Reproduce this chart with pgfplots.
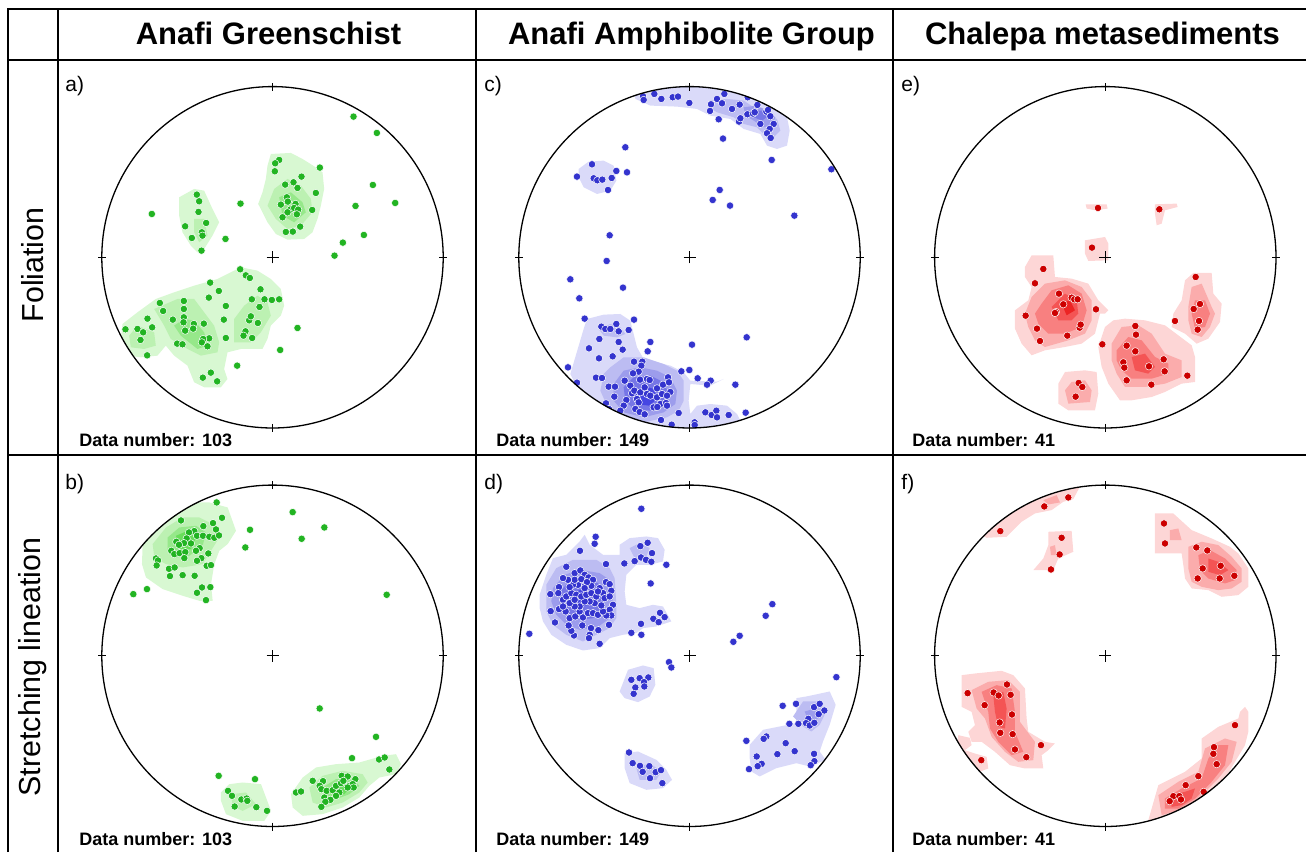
\documentclass[border=0pt]{standalone}
\usepackage{pgfplots}
\pgfplotsset{compat=1.18}
\usepackage{fontspec}
\setmainfont{Liberation Sans}
\definecolor{gp}{RGB}{34,180,34}
\definecolor{G1}{RGB}{216,248,210}
\definecolor{G2}{RGB}{188,241,178}
\definecolor{G3}{RGB}{150,232,138}
\definecolor{G4}{RGB}{105,222,90}
\definecolor{bp}{RGB}{52,52,206}
\definecolor{B1}{RGB}{218,218,249}
\definecolor{B2}{RGB}{188,188,242}
\definecolor{B3}{RGB}{156,156,236}
\definecolor{B4}{RGB}{118,118,230}
\definecolor{B5}{RGB}{70,70,226}
\definecolor{rp}{RGB}{204,0,0}
\definecolor{R1}{RGB}{253,214,214}
\definecolor{R2}{RGB}{251,172,172}
\definecolor{R3}{RGB}{248,128,128}
\definecolor{R4}{RGB}{244,84,84}
\definecolor{R5}{RGB}{236,36,36}
\pgfplotsset{
  cellax/.style={hide axis, scale only axis, width=170.7pt, height=170.7pt, y dir=reverse, anchor=center, clip=false},
  ct/.style={draw=none, fill=#1, forget plot},
  pts/.style={only marks, mark=*, mark size=1.85pt, mark options={fill=#1, draw=white, line width=0.25pt}},
}
\newcommand\ring[2]{%
  \draw[white, line width=14pt] (#1,#2) circle[radius=92.5pt];
}
\newcommand\stereo[2]{%
  \draw[line width=0.65pt] (#1,#2) circle[radius=85.35pt];
  \draw[line width=0.55pt] (#1,#2+166.7) -- (#1,#2+174.7);
  \draw[line width=0.55pt] (#1,#2-166.7) -- (#1,#2-174.7);
  \draw[line width=0.55pt] (#1-166.7,#2) -- (#1-174.7,#2);
  \draw[line width=0.55pt] (#1+166.7,#2) -- (#1+174.7,#2);
  \draw[line width=0.55pt] (#1-6,#2) -- (#1+6,#2) (#1,#2-6) -- (#1,#2+6);
}
\begin{document}
\begin{tikzpicture}[x=0.5pt,y=0.5pt]
\path[use as bounding box] (0,0) rectangle (1306,852);
% ---------------- a) -----------------
\begin{axis}[cellax, at={(136.25pt,297.35pt)}, xmin=23, xmax=1047, ymin=23, ymax=1047]
\addplot[ct=G1] coordinates {(530,225) (590,222) (625,240) (660,262) (685,280) (690,330) (680,380) (670,420) (655,460) (630,480) (580,482) (545,465) (520,430) (500,390) (492,375) (505,340) (515,300) (520,260)} -- cycle;
\addplot[ct=G2] coordinates {(540,330) (580,300) (620,320) (650,360) (655,400) (620,440) (580,450) (545,420) (520,380)} -- cycle;
\addplot[ct=G3] coordinates {(555,355) (590,340) (625,370) (635,400) (600,430) (565,410)} -- cycle;
\addplot[ct=G1] coordinates {(255,355) (300,330) (330,335) (355,390) (375,430) (355,470) (330,510) (310,520) (290,500) (265,460) (255,410)} -- cycle;
\addplot[ct=G2] coordinates {(300,420) (330,420) (340,470) (315,490) (300,460)} -- cycle;
\addplot[ct=G1] coordinates {(85,735) (130,700) (185,660) (240,640) (300,620) (370,600) (420,575) (440,565) (490,575) (530,600) (560,630) (570,680) (560,710) (530,740) (520,780) (505,810) (440,810) (400,820) (390,870) (400,900) (380,925) (330,925) (300,910) (280,860) (240,830) (215,800) (190,830) (140,835) (100,830) (80,780)} -- cycle;
\addplot[ct=G2] coordinates {(180,690) (250,660) (300,660) (330,700) (360,740) (375,790) (370,820) (320,830) (280,810) (230,780) (210,740)} -- cycle;
\addplot[ct=G2] coordinates {(420,720) (450,680) (490,650) (520,670) (530,710) (500,760) (470,790) (420,790)} -- cycle;
\addplot[ct=G2] coordinates {(105,770) (130,740) (180,760) (185,800) (150,810) (110,805)} -- cycle;
\addplot[ct=G3] coordinates {(240,740) (270,720) (300,725) (330,760) (340,800) (310,810) (260,770)} -- cycle;
\addplot[pts=gp] table[row sep=\\] {x y\\ 778 113\\ 848 162\\ 677 266\\ 836 318\\ 903 372\\ 784 381\\ 809 468\\ 746 491\\ 721 530\\ 173 405\\ 439 374\\ 394 480\\ 610 747\\ 558 813\\ 429 860\\ 94 751\\
555 243\\ 543 253\\ 542 277\\ 622 293\\ 573 317\\ 598 310\\ 610 327\\ 665 342\\ 578 355\\ 560 377\\ 581 368\\ 604 375\\ 588 392\\ 600 387\\ 612 392\\ 580 400\\ 608 406\\ 654 393\\ 565 415\\ 618 443\\ 575 459\\ 596 458\\
308 347\\ 315 367\\ 313 399\\ 336 432\\ 273 442\\ 323 460\\ 325 470\\ 293 477\\ 322 515\\
438 571\\ 455 589\\ 467 597\\ 348 611\\ 374 636\\ 344 656\\ 499 631\\ 473 661\\ 511 661\\ 533 663\\ 555 661\\ 395 681\\ 496 684\\ 269 666\\ 269 690\\ 197 672\\ 207 696\\ 236 722\\ 269 715\\ 268 730\\ 160 719\\ 174 745\\ 130 750\\ 147 760\\ 139 783\\ 159 829\\ 273 755\\ 299 735\\ 297 749\\ 329 734\\ 389 722\\ 465 724\\ 470 712\\ 491 732\\ 454 757\\ 448 770\\ 474 777\\ 395 777\\ 345 778\\ 327 780\\ 323 790\\ 340 802\\ 249 794\\ 265 796\\ 326 896\\ 350 881\\ 369 907\\};
\end{axis}
% ---------------- b) -----------------
\begin{axis}[cellax, at={(136.25pt,98.1pt)}, xmin=17.5, xmax=1041.5, ymin=23, ymax=1047]
\addplot[ct=G1] coordinates {(140,200) (180,150) (230,100) (290,75) (340,75) (395,90) (420,160) (395,200) (370,220) (355,260) (345,320) (350,370) (310,370) (260,355) (200,335) (150,300) (138,260)} -- cycle;
\addplot[ct=G2] coordinates {(170,200) (210,150) (260,120) (310,120) (350,140) (370,180) (345,220) (320,260) (260,270) (210,260) (175,240)} -- cycle;
\addplot[ct=G3] coordinates {(215,180) (250,150) (300,145) (330,165) (320,205) (280,235) (240,240) (215,220)} -- cycle;
\addplot[ct=G4] coordinates {(240,175) (275,160) (300,180) (285,215) (250,215)} -- cycle;
\addplot[ct=G1] coordinates {(375,945) (400,920) (440,915) (495,920) (510,960) (525,1000) (505,1030) (440,1030) (390,1010) (375,970)} -- cycle;
\addplot[ct=G2] coordinates {(405,950) (450,945) (480,980) (440,1000) (410,985)} -- cycle;
\addplot[ct=G1] coordinates {(585,950) (620,900) (660,870) (720,860) (790,855) (860,835) (900,830) (915,860) (900,890) (850,900) (820,925) (790,960) (740,990) (680,1010) (620,1015) (590,990)} -- cycle;
\addplot[ct=G2] coordinates {(640,930) (680,895) (740,880) (800,890) (815,915) (790,945) (740,975) (690,990) (650,975)} -- cycle;
\addplot[ct=G3] coordinates {(680,930) (720,905) (770,905) (790,925) (760,950) (720,965) (690,955)} -- cycle;
\addplot[ct=G4] coordinates {(710,930) (740,915) (765,925) (745,950) (715,950)} -- cycle;
\addplot[pts=gp] table[row sep=\\] {x y\\ 362 75\\ 378 121\\ 255 129\\ 351 137\\ 322 146\\ 360 156\\ 295 161\\ 279 165\\ 303 175\\ 321 175\\ 340 178\\ 355 181\\ 369 174\\ 272 183\\ 241 193\\ 264 197\\ 285 198\\ 249 202\\ 311 212\\ 300 220\\ 226 220\\ 235 230\\ 251 227\\ 268 224\\ 337 228\\ 316 242\\ 303 250\\ 265 242\\ 180 243\\ 186 249\\ 182 264\\ 332 265\\ 345 263\\ 219 274\\ 236 270\\ 222 296\\ 260 293\\ 296 295\\ 318 330\\ 343 329\\ 303 346\\ 330 368\\ 153 335\\ 112 350\\
590 104\\ 685 150\\ 617 184\\ 462 157\\ 448 210\\ 872 352\\ 671 693\\ 840 778\\ 768 842\\ 849 846\\ 866 840\\ 880 876\\ 368 895\\ 477 905\\
396 940\\ 408 955\\ 436 966\\ 452 963\\ 454 970\\ 416 987\\ 481 989\\ 513 1000\\
650 910\\ 681 911\\ 671 925\\ 600 945\\ 615 942\\ 676 935\\ 692 940\\ 710 938\\ 720 925\\ 735 917\\ 737 895\\ 755 897\\ 778 905\\ 742 910\\ 760 925\\ 770 920\\ 773 930\\ 755 930\\ 730 945\\ 720 955\\ 685 960\\ 703 967\\ 688 973\\ 676 988\\};
\end{axis}
% ---------------- c) -----------------
\begin{axis}[cellax, at={(344.75pt,297.35pt)}, xmin=25.5, xmax=1049.5, ymin=18, ymax=1042]
\addplot[ct=B1] coordinates {(370,20) (375,55) (420,75) (500,78) (560,85) (600,105) (660,115) (700,145) (750,160) (770,195) (800,205) (830,195) (838,150) (830,110) (815,85) (800,40) (700,-10) (500,-20) (380,-10)} -- cycle;
\addplot[ct=B2] coordinates {(600,60) (650,55) (700,60) (730,80) (760,100) (800,115) (810,150) (790,170) (760,160) (740,140) (700,130) (670,110) (620,95) (595,80)} -- cycle;
\addplot[ct=B3] coordinates {(700,80) (740,75) (770,90) (795,110) (785,135) (760,140) (730,120) (705,105)} -- cycle;
\addplot[ct=B4] coordinates {(725,90) (760,90) (775,105) (755,120) (730,110)} -- cycle;
\addplot[ct=B1] coordinates {(205,265) (235,243) (280,240) (310,255) (318,300) (300,330) (260,340) (220,320) (205,290)} -- cycle;
\addplot[ct=B1] coordinates {(220,745) (230,715) (280,702) (330,700) (360,720) (370,760) (380,800) (400,835) (440,845) (480,855) (520,875) (540,900) (620,903) (640,895) (600,915) (540,910) (535,960) (540,1000) (560,975) (600,970) (650,975) (680,1000) (690,1020) (650,1060) (450,1060) (300,1000) (250,960) (200,920) (180,880)} -- cycle;
\addplot[ct=B2] coordinates {(265,745) (300,730) (330,740) (345,760) (320,770) (280,765)} -- cycle;
\addplot[ct=B2] coordinates {(280,880) (300,860) (340,830) (400,830) (460,850) (500,870) (520,900) (520,960) (505,990) (470,1010) (400,1025) (330,1010) (290,975) (270,930)} -- cycle;
\addplot[ct=B3] coordinates {(310,910) (340,870) (390,860) (440,870) (480,890) (500,930) (495,970) (460,995) (400,1010) (340,995) (310,960)} -- cycle;
\addplot[ct=B4] coordinates {(340,920) (370,890) (420,885) (460,905) (475,940) (460,975) (420,990) (370,985) (345,960)} -- cycle;
\addplot[ct=B5] coordinates {(370,935) (400,915) (430,925) (440,955) (415,975) (380,970)} -- cycle;
\addplot[pts=bp] table[row sep=\\] {x y\\ 398 47\\ 400 58\\ 432 40\\ 453 55\\ 487 50\\ 503 48\\ 537 67\\ 642 40\\ 620 55\\ 635 68\\ 602 71\\ 599 91\\ 665 85\\ 688 72\\ 712 50\\ 741 73\\ 625 116\\ 686 123\\ 690 113\\ 711 101\\ 728 99\\ 733 95\\ 750 130\\ 768 93\\ 773 88\\ 780 107\\ 790 130\\ 778 145\\ 770 158\\ 781 172\\ 638 174\\ 784 238\\ 963 266\\ 345 200\\
245 251\\ 200 288\\ 250 293\\ 261 299\\ 276 297\\ 304 292\\ 318 271\\ 350 275\\ 293 328\\
628 328\\ 607 358\\ 659 375\\ 852 405\\ 298 464\\ 289 541\\ 180 596\\ 338 621\\ 207 653\\ 223 714\\ 371 717\\ 709 770\\ 545 792\\
273 738\\ 285 745\\ 300 745\\ 318 730\\ 325 752\\ 355 748\\ 267 775\\ 325 784\\ 420 784\\ 236 803\\ 337 807\\ 412 812\\ 266 833\\ 307 827\\ 173 860\\ 200 906\\ 257 891\\ 275 892\\ 295 918\\ 314 918\\ 371 843\\ 396 843\\ 393 855\\ 385 873\\ 368 878\\ 343 900\\ 360 915\\ 389 897\\ 410 895\\ 418 898\\ 440 923\\ 458 912\\ 473 890\\ 476 905\\ 480 934\\ 365 938\\ 372 930\\ 390 935\\ 403 920\\ 410 940\\ 420 945\\ 440 950\\ 455 940\\ 470 945\\ 450 970\\ 467 967\\ 470 975\\ 430 980\\ 441 979\\ 380 955\\ 385 965\\ 348 958\\ 340 975\\ 375 985\\ 388 994\\ 330 990\\ 403 1001\\ 312 948\\ 287 968\\ 296 985\\ 505 997\\ 537 868\\ 513 872\\ 562 893\\ 601 900\\ 590 912\\ 675 912\\ 484 1032\\ 452 1018\\ 553 1025\\ 553 1033\\ 585 995\\ 604 1003\\ 618 990\\ 620 1010\\ 655 1003\\ 706 996\\};
\end{axis}
% ---------------- d) -----------------
\begin{axis}[cellax, at={(344.75pt,98.1pt)}, xmin=27.5, xmax=1051.5, ymin=21, ymax=1045]
\addplot[ct=B1] coordinates {(90,350) (110,290) (130,240) (170,230) (210,190) (225,170) (240,200) (280,230) (330,230) (330,200) (360,180) (410,175) (445,180) (465,215) (460,250) (420,260) (380,260) (350,290) (345,340) (350,380) (390,390) (430,380) (460,385) (485,430) (440,445) (400,450) (380,465) (340,470) (300,480) (270,510) (220,517) (170,500) (125,470) (100,430) (90,390)} -- cycle;
\addplot[ct=B2] coordinates {(110,320) (140,270) (190,245) (260,245) (300,270) (315,300) (320,380) (320,420) (300,450) (260,470) (220,490) (170,470) (130,440) (110,400)} -- cycle;
\addplot[ct=B2] coordinates {(360,210) (390,195) (420,210) (410,235) (375,240)} -- cycle;
\addplot[ct=B3] coordinates {(130,330) (165,290) (210,275) (270,285) (300,305) (310,360) (300,420) (260,450) (210,455) (170,440) (140,410) (125,370)} -- cycle;
\addplot[ct=B4] coordinates {(150,340) (180,310) (220,305) (265,315) (285,345) (280,390) (250,420) (210,425) (170,410) (150,375)} -- cycle;
\addplot[ct=B5] coordinates {(185,345) (215,335) (240,350) (235,380) (205,390) (185,370)} -- cycle;
\addplot[ct=B1] coordinates {(330,640) (355,575) (400,562) (432,570) (437,620) (420,655) (385,672) (345,660)} -- cycle;
\addplot[ct=B1] coordinates {(345,825) (385,820) (440,845) (470,875) (487,905) (460,930) (410,935) (360,915) (345,870)} -- cycle;
\addplot[ct=B2] coordinates {(380,870) (420,855) (455,880) (440,905) (390,905)} -- cycle;
\addplot[ct=B1] coordinates {(720,800) (760,755) (810,745) (860,735) (860,660) (890,655) (960,640) (978,680) (960,740) (940,790) (930,820) (948,845) (900,865) (860,855) (800,870) (750,895) (725,880) (720,840)} -- cycle;
\addplot[ct=B2] coordinates {(850,715) (880,670) (930,670) (950,700) (930,740) (905,760) (880,745)} -- cycle;
\addplot[ct=B3] coordinates {(885,700) (920,690) (925,720) (900,740)} -- cycle;
\addplot[pts=bp] table[row sep=\\] {x y\\ 395 92\\ 258 176\\ 255 197\\ 211 218\\ 289 258\\ 344 256\\ 59 467\\ 470 260\\ 423 316\\ 365 464\\ 394 437\\ 395 470\\ 431 422\\ 447 432\\ 451 404\\ 465 417\\ 788 378\\ 768 413\\ 690 473\\ 671 491\\ 478 552\\ 485 568\\ 980 597\\
392 204\\ 414 194\\ 427 225\\ 375 249\\ 394 238\\ 409 245\\ 425 251\\
170 266\\ 195 285\\ 212 277\\ 225 290\\ 237 298\\ 250 305\\ 289 312\\ 270 330\\ 300 318\\ 305 338\\ 310 380\\ 300 395\\ 305 412\\ 290 412\\ 298 440\\ 266 456\\ 244 450\\ 240 470\\ 238 480\\ 270 497\\ 218 442\\ 193 472\\ 185 458\\ 177 442\\ 136 433\\ 123 399\\ 122 348\\ 148 327\\ 146 345\\ 160 365\\ 168 400\\ 148 393\\ 180 420\\ 197 415\\ 210 400\\ 220 418\\ 235 405\\ 250 405\\ 265 410\\ 280 400\\ 275 382\\ 255 375\\ 240 370\\ 225 370\\ 210 385\\ 195 385\\ 180 375\\ 170 355\\ 185 345\\ 200 350\\ 215 355\\ 230 350\\ 245 345\\ 260 355\\ 280 345\\ 285 360\\ 265 340\\ 245 323\\ 225 325\\ 205 320\\ 190 320\\ 180 327\\ 195 305\\ 215 303\\ 232 312\\ 175 305\\ 160 385\\ 195 365\\ 225 330\\ 300 355\\ 160 300\\
365 605\\ 390 600\\ 416 598\\ 403 612\\ 377 628\\ 404 625\\ 372 647\\
358 823\\ 369 855\\ 391 863\\ 419 864\\ 399 881\\ 438 882\\ 454 876\\ 421 900\\ 458 915\\
819 683\\ 859 677\\ 913 687\\ 930 677\\ 944 697\\ 927 708\\ 896 722\\ 889 735\\ 900 742\\ 914 734\\ 866 737\\ 839 737\\ 770 775\\ 762 782\\ 710 788\\ 828 795\\ 855 819\\ 803 828\\ 741 835\\ 756 857\\ 744 864\\ 718 873\\ 913 827\\ 914 849\\ 903 861\\};
\end{axis}
% ---------------- e) -----------------
\begin{axis}[cellax, at={(552.65pt,297.35pt)}, xmin=29, xmax=1053, ymin=19, ymax=1043]
\addplot[ct=R1] coordinates {(482,372) (545,372) (548,385) (510,390) (485,385)} -- cycle;
\addplot[ct=R1] coordinates {(690,372) (755,370) (758,380) (720,390) (710,430) (695,435) (690,400)} -- cycle;
\addplot[ct=R1] coordinates {(480,480) (540,470) (550,490) (550,540) (490,542) (480,520)} -- cycle;
\addplot[ct=R1] coordinates {(300,560) (320,525) (385,525) (390,590) (440,595) (490,610) (520,660) (550,690) (540,700) (525,700) (510,760) (470,790) (420,800) (360,810) (320,825) (290,790) (270,745) (270,690) (310,660) (320,620) (300,590)} -- cycle;
\addplot[ct=R2] coordinates {(320,650) (360,610) (420,600) (470,620) (500,660) (500,720) (480,760) (430,780) (360,800) (330,780) (310,740) (300,700)} -- cycle;
\addplot[ct=R3] coordinates {(350,670) (380,630) (430,615) (470,640) (485,690) (470,740) (420,760) (370,760) (340,730) (330,700)} -- cycle;
\addplot[ct=R4] coordinates {(380,680) (420,640) (455,660) (460,700) (440,720) (400,720)} -- cycle;
\addplot[ct=R5] coordinates {(410,670) (435,660) (450,690) (425,705)} -- cycle;
\addplot[ct=R1] coordinates {(400,910) (420,875) (480,870) (515,875) (520,940) (510,990) (430,990) (400,970)} -- cycle;
\addplot[ct=R2] coordinates {(420,930) (440,905) (480,900) (500,930) (495,965) (430,970)} -- cycle;
\addplot[ct=R1] coordinates {(520,800) (540,740) (565,720) (600,715) (660,720) (720,735) (800,795) (810,830) (810,905) (770,910) (720,935) (680,950) (620,960) (585,960) (550,910) (530,860)} -- cycle;
\addplot[ct=R2] coordinates {(560,790) (590,740) (640,735) (680,760) (720,820) (770,840) (770,890) (720,910) (660,920) (600,920) (575,880) (560,840)} -- cycle;
\addplot[ct=R3] coordinates {(575,810) (610,770) (650,780) (690,830) (730,850) (730,880) (680,895) (620,895) (590,870) (575,840)} -- cycle;
\addplot[ct=R4] coordinates {(620,830) (660,820) (690,860) (670,880) (630,870)} -- cycle;
\addplot[ct=R1] coordinates {(745,700) (770,660) (780,600) (805,578) (860,578) (865,640) (890,670) (885,725) (850,775) (815,790) (780,760) (740,740)} -- cycle;
\addplot[ct=R2] coordinates {(790,680) (800,620) (830,610) (860,680) (870,700) (855,740) (830,770) (800,760) (790,720)} -- cycle;
\addplot[ct=R3] coordinates {(800,700) (810,660) (840,660) (855,700) (840,740) (810,745)} -- cycle;
\addplot[pts=rp] table[row sep=\\] {x y\\ 519 383\\ 703 387\\ 501 502\\ 355 566\\ 330 609\\ 402 640\\ 440 652\\ 448 657\\ 458 657\\ 415 672\\ 393 695\\ 390 698\\ 302 706\\ 513 687\\ 336 745\\ 464 742\\ 467 733\\ 345 782\\ 427 766\\ 532 792\\ 631 737\\ 633 763\\ 605 796\\ 631 813\\ 595 846\\ 598 862\\ 672 858\\ 716 837\\ 719 873\\ 605 900\\ 679 913\\ 787 886\\ 461 908\\ 472 920\\ 452 949\\ 812 590\\ 825 671\\ 806 686\\ 822 722\\ 818 748\\ 750 722\\};
\end{axis}
% ---------------- f) -----------------
\begin{axis}[cellax, at={(552.65pt,98.1pt)}, xmin=29, xmax=1053, ymin=20, ymax=1044]
\addplot[ct=R1] coordinates {(185,178) (245,175) (290,130) (330,105) (380,95) (415,70) (445,62) (470,15) (420,20) (320,50) (240,95) (160,165)} -- cycle;
\addplot[ct=R2] coordinates {(355,65) (395,50) (405,72) (370,78)} -- cycle;
\addplot[ct=R1] coordinates {(325,275) (355,240) (370,200) (370,160) (440,157) (445,220) (400,240) (385,275)} -- cycle;
\addplot[ct=R2] coordinates {(375,205) (390,200) (395,230) (378,230)} -- cycle;
\addplot[ct=R1] coordinates {(690,105) (745,105) (800,155) (860,180) (915,205) (940,225) (970,270) (970,325) (940,350) (890,355) (850,335) (800,330) (780,300) (775,260) (770,225) (690,225)} -- cycle;
\addplot[ct=R2] coordinates {(735,155) (760,150) (770,185) (735,185)} -- cycle;
\addplot[ct=R2] coordinates {(790,205) (830,190) (880,200) (920,235) (950,270) (950,310) (920,330) (880,335) (830,325) (800,310) (790,270)} -- cycle;
\addplot[ct=R3] coordinates {(820,230) (855,215) (900,240) (935,275) (930,305) (900,315) (850,300) (825,275)} -- cycle;
\addplot[ct=R4] coordinates {(850,240) (880,250) (910,275) (885,290) (850,280)} -- cycle;
\addplot[ct=R1] coordinates {(110,590) (150,585) (230,577) (265,590) (300,630) (305,720) (310,760) (360,790) (390,795) (370,815) (350,830) (355,870) (300,870) (255,860) (210,820) (170,790) (140,790) (130,760) (150,740) (140,700) (110,685)} -- cycle;
\addplot[ct=R1] coordinates {(100,770) (135,778) (140,800) (120,815) (150,825) (185,835) (190,870) (150,885) (90,880)} -- cycle;
\addplot[ct=R2] coordinates {(140,635) (190,610) (250,605) (285,640) (285,730) (330,790) (325,845) (280,850) (240,820) (200,775) (180,720) (155,690)} -- cycle;
\addplot[ct=R3] coordinates {(170,640) (215,620) (260,630) (270,700) (270,760) (295,820) (260,830) (220,790) (195,750) (190,700)} -- cycle;
\addplot[ct=R4] coordinates {(205,650) (235,640) (245,690) (240,750) (220,745) (210,700)} -- cycle;
\addplot[ct=R1] coordinates {(660,1060) (700,920) (780,880) (830,840) (830,780) (880,745) (940,720) (945,700) (960,685) (970,700) (970,760) (960,800) (930,850) (900,900) (860,940) (800,990) (720,1060)} -- cycle;
\addplot[ct=R2] coordinates {(700,950) (760,910) (820,880) (840,810) (900,780) (935,790) (920,850) (880,900) (840,940) (780,990) (710,1010)} -- cycle;
\addplot[ct=R3] coordinates {(720,960) (770,930) (830,900) (850,840) (880,800) (910,800) (900,860) (860,910) (810,960) (760,990) (720,990)} -- cycle;
\addplot[ct=R4] coordinates {(735,950) (780,940) (810,930) (800,960) (770,980) (740,985)} -- cycle;
\addplot[pts=rp] table[row sep=\\] {x y\\ 430 57\\ 358 84\\ 226 158\\ 410 178\\ 404 228\\ 378 273\\ 717 135\\ 720 195\\ 814 207\\ 847 216\\ 833 270\\ 887 262\\ 818 300\\ 884 300\\ 928 292\\
128 644\\ 179 680\\ 206 642\\ 221 651\\ 246 618\\ 257 649\\ 261 708\\ 224 732\\ 226 763\\ 263 767\\ 270 813\\ 304 836\\ 348 800\\ 169 845\\
930 740\\ 867 806\\ 865 826\\ 875 857\\ 820 893\\ 782 920\\ 836 940\\ 745 953\\ 763 953\\ 734 968\\ 768 963\\};
\end{axis}
% ---------------- frames and text -----------------
\ring{272.5}{594.7}
\ring{272.5}{196.2}
\ring{689.5}{594.7}
\ring{689.5}{196.2}
\ring{1105.3}{594.7}
\ring{1105.3}{196.2}
\stereo{272.5}{594.7}
\stereo{272.5}{196.2}
\stereo{689.5}{594.7}
\stereo{689.5}{196.2}
\stereo{1105.3}{594.7}
\stereo{1105.3}{196.2}
\begin{scope}[line width=1pt]
\draw (8.3,0) -- (8.3,843.2) -- (1306,843.2);
\draw (8.3,792) -- (1306,792);
\draw (8.3,396.5) -- (1306,396.5);
\draw (58.3,0) -- (58.3,843.2);
\draw (475.5,0) -- (475.5,843.2);
\draw (892.5,0) -- (892.5,843.2);
\end{scope}
\begin{scope}[font=\fontsize{15.5}{18}\selectfont\bfseries, inner sep=0pt]
\node[anchor=base] at (268.5,807) {Anafi Greenschist};
\node[anchor=base] at (691.5,807) {Anafi Amphibolite Group};
\node[anchor=base] at (1102.5,807) {Chalepa metasediments};
\end{scope}
\begin{scope}[font=\fontsize{15.2}{18}\selectfont, inner sep=0pt]
\node[rotate=90, anchor=center] at (33,587) {Foliation};
\node[rotate=90, anchor=center] at (33,185) {Stretching lineation};
\end{scope}
\begin{scope}[font=\fontsize{10.5}{12}\selectfont, inner sep=0pt]
\node[anchor=base west] at (65,760.5) {a)};
\node[anchor=base west] at (65,362) {b)};
\node[anchor=base west] at (484,760.5) {c)};
\node[anchor=base west] at (484,362) {d)};
\node[anchor=base west] at (901,760.5) {e)};
\node[anchor=base west] at (901,362) {f)};
\end{scope}
\begin{scope}[font=\fontsize{9}{10}\selectfont\bfseries, inner sep=0pt]
\node[anchor=base west] at (79,405) {Data number: 103};
\node[anchor=base west] at (79,7) {Data number: 103};
\node[anchor=base west] at (496,405) {Data number: 149};
\node[anchor=base west] at (496,7) {Data number: 149};
\node[anchor=base west] at (912,405) {Data number: 41};
\node[anchor=base west] at (912,7) {Data number: 41};
\end{scope}
\end{tikzpicture}
\end{document}
